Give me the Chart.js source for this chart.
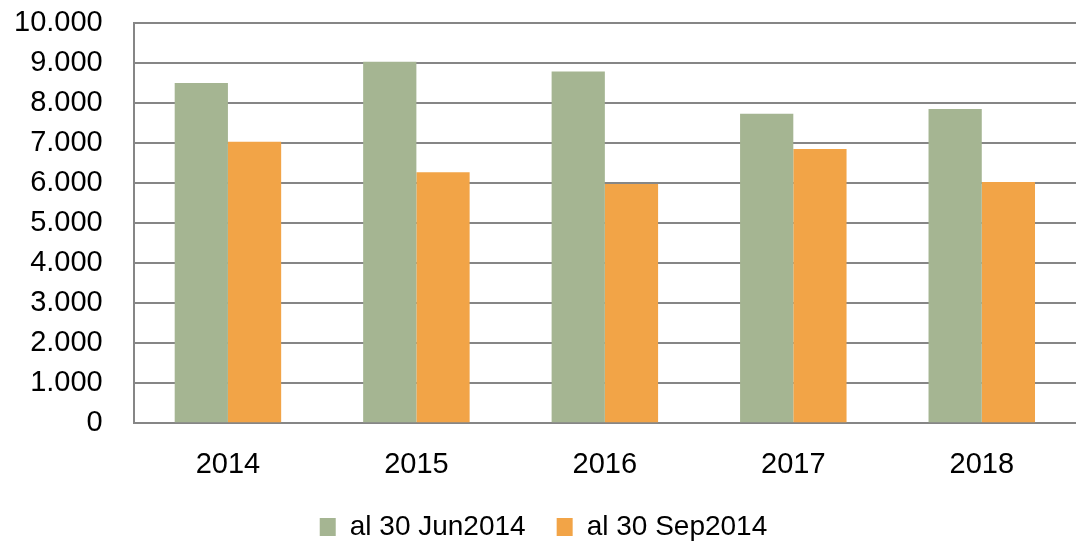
<!DOCTYPE html>
<html>
<head>
<meta charset="utf-8">
<script src="https://cdn.jsdelivr.net/npm/chart.js@4"></script>
<style>
  body { margin: 0; background: #fff; }
</style>
</head>
<body>
<canvas id="chart" width="1076" height="541"></canvas>
<script>
const years = ["2014", "2015", "2016", "2017", "2018"];
const jun2014 = [8500, 9030, 8790, 7730, 7850];
const sep2014 = [7030, 6270, 5980, 6850, 6025];
const seriesNames = ["al 30 Jun2014", "al 30 Sep2014"];

function formatThousands(v) {
  return String(v).replace(/\B(?=(\d{3})+(?!\d))/g, ".");
}

const ctx = document.getElementById("chart").getContext("2d");

new Chart(ctx, {
  type: "bar",
  data: {
    labels: years,
    datasets: [{
      label: seriesNames[0],
      data: jun2014,
      backgroundColor: "#a5b592",
    }, {
      label: seriesNames[1],
      data: sep2014,
      backgroundColor: "#f2a447",
    }],
  },
  options: {
    responsive: false,
    animation: false,
    layout: {
      padding: { top: 23, left: 11, right: 0, bottom: -10 },
    },
    datasets: {
      bar: { barPercentage: 1, categoryPercentage: 0.565 },
    },
    scales: {
      x: {
        grid: { display: false, drawTicks: true, tickLength: 24 },
        border: { display: false },
        ticks: {
          color: "#000",
          padding: 0,
          font: { family: "'Liberation Sans', Arial", size: 29 },
        },
      },
      y: {
        min: 0,
        max: 10000,
        grid: { color: "#868686", lineWidth: 2, drawTicks: true, tickLength: 28, tickColor: "transparent" },
        border: { display: true, color: "#868686", width: 2 },
        ticks: {
          stepSize: 1000,
          autoSkip: false,
          color: "#000",
          padding: 3,
          font: { family: "'Liberation Sans', Arial", size: 29 },
          callback: (v) => formatThousands(v),
        },
      },
    },
    plugins: {
      tooltip: { enabled: false },
      legend: {
        position: "bottom",
        labels: {
          color: "#000",
          boxWidth: 16,
          boxHeight: 18,
          padding: 31,
          font: { family: "'Liberation Sans', Arial", size: 28 },
        },
      },
    },
  },
});
</script>
</body>
</html>
